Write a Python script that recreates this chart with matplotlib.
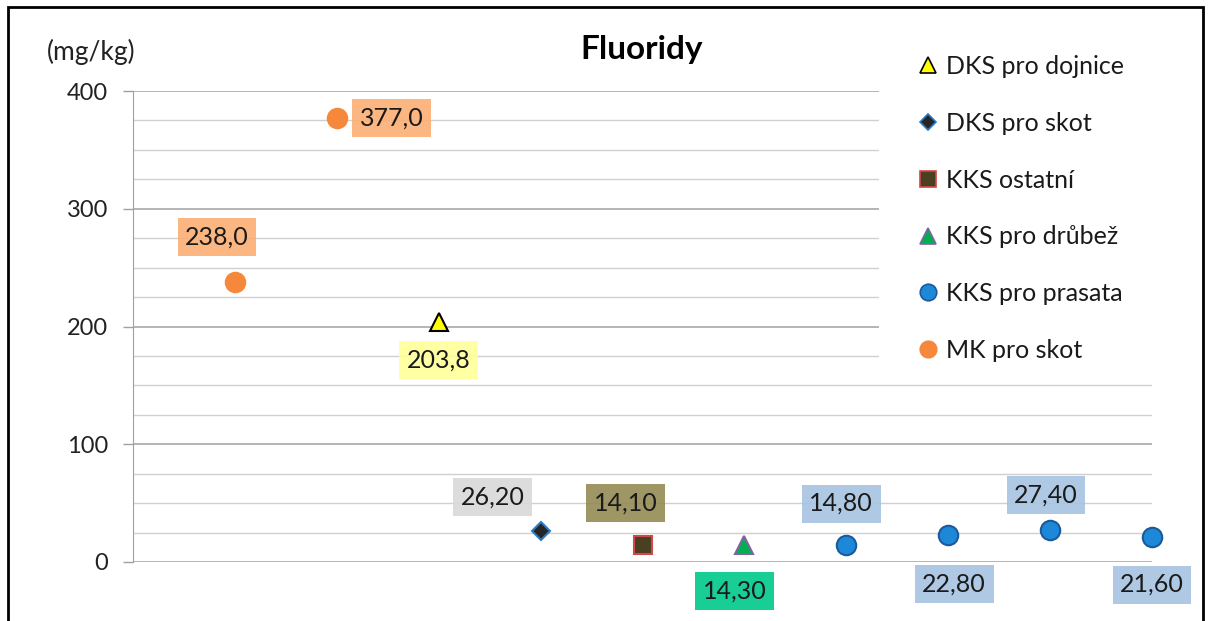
import matplotlib
matplotlib.use('Agg')
import matplotlib.pyplot as plt
from matplotlib.patches import Rectangle
from matplotlib.lines import Line2D

# Fluoride content of feeds (mg/kg), one point per sample position.
series_names = ['DKS pro dojnice', 'DKS pro skot', 'KKS ostatní',
                'KKS pro drůbež', 'KKS pro prasata', 'MK pro skot']
series_x = [[3], [4], [5], [6], [7, 8, 9, 10], [1, 2]]
series_y = [[203.8], [26.2], [14.1], [14.3], [14.8, 22.8, 27.4, 21.6], [238.0, 377.0]]
series_decimals = [1, 2, 2, 2, 2, 1]

y_ticks = [0, 100, 200, 300, 400]

# Marker style for each series (face, edge, marker, size).
styles = [
    ('#FFFF00', '#000000', '^', 13),
    ('#262626', '#2A7BC4', 'D', 9),
    ('#4B3F21', '#D04848', 's', 13),
    ('#00B050', '#8064A2', '^', 13),
    ('#1E88D8', '#1A5A9A', 'o', 14),
    ('#F5883A', '#F5883A', 'o', 14),
]
label_colors = ['#FFFF99', '#D9D9D9', '#958B55', '#00C98A', '#A6C4E2', '#FBAE74']
# Label offsets in pixels from the point, per series and point.
label_offsets = [[(0, -38)], [(-48, 34)], [(-17, 42)], [(-10, -46)],
                 [(-5, 41), (6, -49), (-4, 35), (0, -48)],
                 [(-18, 45), (55, 0)]]

plt.rcParams['font.family'] = ['Lato', 'DejaVu Sans']

W, H = 1210, 621
fig = plt.figure(figsize=(W / 100, H / 100), dpi=100)
ax = fig.add_axes([133 / W, 1 - 562 / H, (1152 - 133) / W, (562 - 91) / H])

ax.set_xlim(0, 10)
ax.set_ylim(0, 400)
ax.set_yticks(y_ticks)
ax.set_yticks(range(0, 401, 25), minor=True)
ax.set_xticks([])
ax.tick_params(axis='y', which='major', length=7, width=1, color='#A0A0A0',
               labelsize=17, pad=11, labelcolor='#222222')
ax.tick_params(axis='y', which='minor', length=0)
ax.grid(axis='y', which='major', color='#A8A8A8', linewidth=1.2)
ax.grid(axis='y', which='minor', color='#D0D0D0', linewidth=1.0)
ax.set_axisbelow(True)
for side in ['top', 'right', 'bottom']:
    ax.spines[side].set_visible(False)
ax.spines['left'].set_color('#A0A0A0')

# white area behind the legend hides the gridlines there
fig.patches.append(Rectangle((879 / W, 1 - 372 / H), (1160 - 879) / W, (372 - 85) / H,
                             transform=fig.transFigure, facecolor='white',
                             edgecolor='none', zorder=1))

handles = []
for i, name in enumerate(series_names):
    face, edge, mk, ms = styles[i]
    ax.plot(series_x[i], series_y[i], linestyle='none', marker=mk, markersize=ms,
            markerfacecolor=face, markeredgecolor=edge, markeredgewidth=1.5,
            zorder=4, clip_on=False)
    handles.append(Line2D([], [], linestyle='none', marker=mk, markersize=ms * 0.85,
                          markerfacecolor=face, markeredgecolor=edge, markeredgewidth=1.2))
    for j, (x, y) in enumerate(zip(series_x[i], series_y[i])):
        txt = f'{y:.{series_decimals[i]}f}'.replace('.', ',')
        dx, dy = label_offsets[i][j]
        ax.annotate(txt, (x, y), xytext=(dx * 0.72, dy * 0.72), textcoords='offset points',
                    ha='center', va='center', fontsize=18, color='#1A1A1A', zorder=6,
                    annotation_clip=False,
                    bbox=dict(boxstyle='square,pad=0.3', facecolor=label_colors[i],
                              edgecolor='none', alpha=0.9))

leg = fig.legend(handles, series_names, loc='upper left',
                 bbox_to_anchor=(918 / W, 1 - 55 / H), bbox_transform=fig.transFigure,
                 frameon=False, fontsize=18, labelspacing=1.35, handlelength=0.8,
                 handletextpad=0.32, borderpad=0, borderaxespad=0)
for t in leg.get_texts():
    t.set_color('#1A1A1A')

fig.text(642 / W, 1 - 50 / H, 'Fluoridy', ha='center', va='center',
         fontsize=24, fontweight='bold')
fig.text(91 / W, 1 - 52 / H, '(mg/kg)', ha='center', va='center',
         fontsize=19, color='#222222')

fig.patches.append(Rectangle((8 / W, -0.1), (1203 - 8) / W, 1.1 - 7 / H,
                             transform=fig.transFigure, fill=False,
                             edgecolor='black', linewidth=2))

fig.savefig('out.png', dpi=100)
